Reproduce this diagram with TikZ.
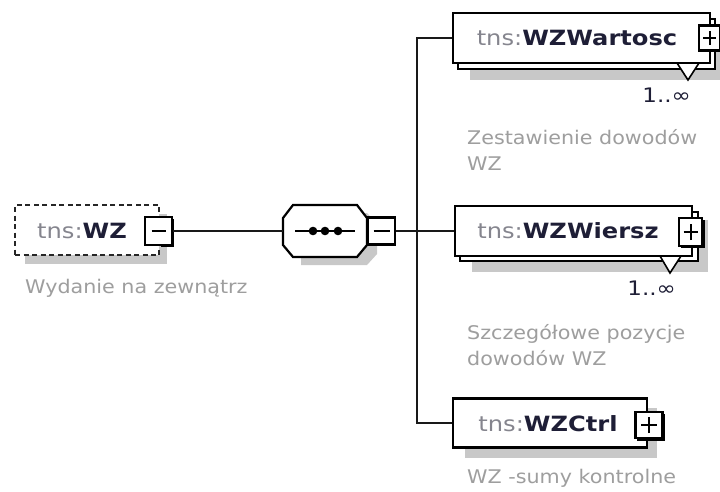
\documentclass[tikz,border=0pt]{standalone}
\usepackage{fontspec}
\newfontfamily\labfont[FakeStretch=1.15]{DejaVu Sans}
\newfontfamily\capfont[FakeStretch=1.1]{DejaVu Sans}
\definecolor{tnsgray}{HTML}{85858E}
\definecolor{namecol}{HTML}{1E1E36}
\definecolor{capgray}{HTML}{9E9E9E}
\definecolor{shadowc}{HTML}{C8C8C8}
\tikzset{
  conn/.style={line width=2.4pt, draw=black!90},
  ebox/.style={draw=black, fill=white, line width=2.2pt},
  shad/.style={fill=shadowc},
  pmbox/.style={draw=black, fill=white, line width=2.1pt, minimum width=#1, minimum height=25pt, inner sep=0pt},
  pmbox/.default=24pt,
  pmsign/.style={line width=2pt},
  lab/.style={font=\labfont\fontsize{21}{24}\selectfont, inner sep=0pt, anchor=center},
  capt/.style={font=\capfont\fontsize{18.8}{26}\selectfont, text=capgray, inner sep=0pt, anchor=north west, align=left},
  mult/.style={font=\labfont\fontsize{20}{22}\selectfont, text=namecol, inner sep=0pt, anchor=east},
}
\newcommand{\nm}[1]{{\color{tnsgray}tns:}\textbf{\color{namecol}#1}}
\begin{document}
\begin{tikzpicture}[x=1pt,y=-1pt]
\useasboundingbox[fill=white] (0,0) rectangle (720,491);

% ---------- shadows ----------
\fill[shad] (25,214) rectangle (167,264);          % WZ
\fill[shad] (301,213) -- (367,213) -- (377,224) -- (377,254) -- (367,265) -- (301,265) -- cycle; % seq
\fill[shad] (470,27) rectangle (720,80);           % WZWartosc
\fill[shad] (472,220) rectangle (708,272);         % WZWiersz
\fill[shad] (465,408) rectangle (657,458);         % WZCtrl

% ---------- WZ ----------
\node[draw=black!85, fill=white, dash pattern=on 5pt off 3.5pt, line width=2.3pt,
      minimum width=144pt, minimum height=50pt, inner sep=0pt] (wz) at (87,230) {};
\node[lab] (wzt) at (82,231) {\nm{WZ}};
\fill[black] (160.5,219) rectangle (173.5,247);
\node[pmbox=27pt, minimum height=28pt] (wzm) at (158.5,231) {};
\draw[pmsign] ([xshift=-7pt]wzm.center) -- ([xshift=7pt]wzm.center);
\node[capt] (wzc) at (25,279) {Wydanie na zewnątrz};

% ---------- sequence ----------
\filldraw[ebox] (293,205) -- (357,205) -- (367,218) -- (367,245) -- (357,257)
  -- (293,257) -- (283,245) -- (283,218) -- cycle;
\node[inner sep=0pt, minimum width=84pt, minimum height=52pt] (seqn) at (325,231) {};
\draw[line width=2pt] (295,231) -- (355,231);
\foreach \xx in {313,325,338} \fill (\xx,231) circle (4.3pt);
\node[pmbox=27pt, minimum height=27pt] (seqm) at (381.5,231) {};
\draw[pmsign] ([xshift=-8pt]seqm.center) -- ([xshift=8pt]seqm.center);

% ---------- WZWartosc ----------
\filldraw[ebox] (458,19) rectangle (715,69);
\node[ebox, minimum width=257pt, minimum height=50pt, inner sep=0pt] (wart) at (581.5,38) {};
\filldraw[fill=white, draw=black, line width=1.6pt] (677,63) -- (699,63) -- (688,80) -- cycle;
\node[lab] (wartt) at (577,38) {\nm{WZWartosc}};
\fill[black] (700,27) rectangle (721,52);
\node[pmbox=21pt] (wartp) at (709.5,38) {};
\draw[pmsign] ([xshift=-6.5pt]wartp.center) -- ([xshift=6.5pt]wartp.center)
  ([yshift=-7pt]wartp.center) -- ([yshift=7pt]wartp.center);
\node[mult] (wartm) at (691,95) {1..∞};
\node[capt] (wartc) at (467,129) {Zestawienie dowodów\\WZ};

% ---------- WZWiersz ----------
\filldraw[ebox] (460,212) rectangle (698,261);
\node[ebox, minimum width=237pt, minimum height=50pt, inner sep=0pt] (wier) at (573.5,231) {};
\filldraw[fill=white, draw=black, line width=1.6pt] (660,256) -- (681,256) -- (670,273) -- cycle;
\node[lab] (wiert) at (568,231) {\nm{WZWiersz}};
\fill[black] (681,220) rectangle (705,248);
\node[pmbox=23pt, minimum height=28pt] (wierp) at (690.5,232) {};
\draw[pmsign] ([xshift=-7pt]wierp.center) -- ([xshift=7pt]wierp.center)
  ([yshift=-8pt]wierp.center) -- ([yshift=8pt]wierp.center);
\node[mult] (wierm) at (676,288) {1..∞};
\node[capt] (wierc) at (467,324) {Szczegółowe pozycje\\dowodów WZ};

% ---------- WZCtrl ----------
\node[ebox, minimum width=194pt, minimum height=49pt, inner sep=0pt] (ctrl) at (550,423) {};
\node[lab] (ctrlt) at (548,424) {\nm{WZCtrl}};
\fill[black] (637,414) rectangle (665,441);
\node[pmbox=27pt, minimum height=26pt] (ctrlp) at (649,425) {};
\draw[pmsign] ([xshift=-8pt]ctrlp.center) -- ([xshift=8pt]ctrlp.center)
  ([yshift=-8pt]ctrlp.center) -- ([yshift=8pt]ctrlp.center);
\node[capt] (ctrlc) at (467,469) {WZ -sumy kontrolne};

% ---------- connectors ----------
\coordinate (bus) at (417,231);
\draw[conn] (wzm.east) -- (seqn.west);
\draw[conn] (seqm.east) -- (bus);
\draw[conn] (wart.west) -| (bus) |- (ctrl.west);
\draw[conn] (bus) -- (wier.west);
\end{tikzpicture}
\end{document}
